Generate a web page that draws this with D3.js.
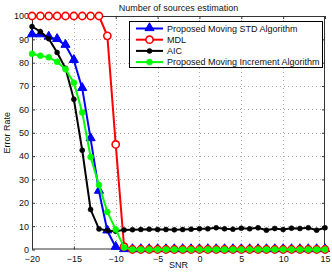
<!DOCTYPE html>
<html><head><meta charset="utf-8">
<script src="https://cdn.jsdelivr.net/npm/d3@7"></script>
<style>body{margin:0;background:#fff}svg{display:block}text{font-family:"Liberation Sans",Arial,sans-serif}</style>
</head><body>
<svg id="c" width="332" height="274"></svg>
<script>
const snr = d3.range(-20, 16, 1);
const stdVals = [92,92,91,90,87.5,81,69,47.5,25,8,1,0,0,0,0,0,0,0,0,0,0,0,0,0,0,0,0,0,0,0,0,0,0,0,0,0];
const mdlVals = [100,100,100,100,100,100,100,100,100,91.5,45,1.2,0,0,0,0,0,0,0,0,0,0,0,0,0,0,0,0,0,0,0,0,0,0,0,0];
const aicVals = [95.5,93.3,90.3,84.4,77.6,64.3,42.5,17.1,8.8,8.1,7.8,8.4,8.5,8.6,8.7,8.6,8.57,8.43,8.57,8.71,8.86,8.86,9.29,8.86,8.71,9.14,8.86,9.29,8.29,9.0,8.57,9.14,9.0,9.29,8.29,9.29];
const incVals = [83.8,83,82.3,80.4,77.2,71.4,58.7,39.6,27.6,16.1,8.6,0.9,0,0,0,0,0,0,0,0,0,0,0,0,0,0,0,0,0,0,0,0,0,0,0,0];
const xTicks = [-20,-15,-10,-5,0,5,10,15];
const yTicks = [0,10,20,30,40,50,60,70,80,90,100];
const seriesNames = ["Proposed Moving STD Algorithm","MDL","AIC","Proposed Moving Increment Algorithm"];

const svg = d3.select("#c");
const L=32, R=325, T=16, B=249.5;
const x = d3.scaleLinear().domain([-20,15]).range([L,R]);
const y = d3.scaleLinear().domain([0,100]).range([B,T]);
const fs = 9;

// grid
const g = svg.append("g");
g.selectAll(".gx").data(xTicks.slice(1,-1)).enter().append("line")
 .attr("x1",d=>Math.round(x(d))+0.5).attr("x2",d=>Math.round(x(d))+0.5).attr("y1",T).attr("y2",B)
 .attr("stroke","#999").attr("stroke-width",0.8).attr("stroke-dasharray","1,3");
g.selectAll(".gy").data(yTicks.slice(1,-1)).enter().append("line")
 .attr("y1",d=>Math.round(y(d))+0.5).attr("y2",d=>Math.round(y(d))+0.5).attr("x1",L).attr("x2",R)
 .attr("stroke","#999").attr("stroke-width",0.8).attr("stroke-dasharray","1,3");

// axes
const xa = d3.axisBottom(x).tickValues(xTicks).tickSize(-3).tickPadding(6).tickFormat(d=>d<0?"\u2212"+(-d):d);
const ya = d3.axisLeft(y).tickValues(yTicks).tickSize(-3).tickPadding(3);
const gx = svg.append("g").attr("transform",`translate(0,${B})`).call(xa);
const gy = svg.append("g").attr("transform",`translate(${L},0)`).call(ya);
[gx,gy].forEach(a=>{a.select(".domain").remove();a.selectAll("line").attr("stroke","#333");a.selectAll("text").attr("font-size",fs).attr("fill","#111").attr("font-family","Liberation Sans, Arial, sans-serif");});
svg.append("g").attr("transform",`translate(0,${T})`).call(d3.axisTop(x).tickValues(xTicks).tickSize(-3).tickFormat("")).call(a=>{a.select(".domain").remove();a.selectAll("line").attr("stroke","#333");});
svg.append("g").attr("transform",`translate(${R},0)`).call(d3.axisRight(y).tickValues(yTicks).tickSize(-3).tickFormat("")).call(a=>{a.select(".domain").remove();a.selectAll("line").attr("stroke","#333");});
svg.append("rect").attr("x",L+0.5).attr("y",T+0.5).attr("width",R-L-1).attr("height",B-T-1)
 .attr("fill","none").attr("stroke","#333").attr("stroke-width",1);

// series
const line = d3.line().x(d=>x(d[0])).y(d=>y(d[1]));
const tri = d3.symbol().type(d3.symbolTriangle).size(36);
function marker(sel, m, color){
  if(m==="tri") sel.append("path").attr("d",tri).attr("transform",d=>`translate(${d[0]},${d[1]-0.5})`).attr("fill",color).attr("stroke",color).attr("stroke-width",1);
  else if(m==="circ") sel.append("circle").attr("cx",d=>d[0]).attr("cy",d=>d[1]).attr("r",3.6).attr("fill","#fff").attr("stroke",color).attr("stroke-width",1.6);
  else sel.append("circle").attr("cx",d=>d[0]).attr("cy",d=>d[1]).attr("r",m).attr("fill",color).attr("stroke",color).attr("stroke-width",0.5);
}
function series(vals,color,m){
  const pts = snr.map((s,i)=>[s,vals[i]]);
  const gg = svg.append("g");
  gg.append("path").datum(pts).attr("d",line).attr("fill","none").attr("stroke",color).attr("stroke-width",2);
  marker(gg.selectAll("g.m").data(pts.map(p=>[x(p[0]),y(p[1])])).enter().append("g").attr("class","m"), m, color);
}
const cols=["#0000ff","#ff0000","#000000","#00ff00"], marks=["tri","circ",2.5,3];
series(stdVals,cols[0],marks[0]);
series(mdlVals,cols[1],marks[1]);
series(aicVals,cols[2],marks[2]);
series(incVals,cols[3],marks[3]);

// legend
const lg = svg.append("g");
lg.append("rect").attr("x",129.5).attr("y",21.5).attr("width",193).attr("height",46).attr("fill","#fff").attr("stroke","#000").attr("stroke-width",1);
seriesNames.forEach((n,i)=>{
  const yy = 28.5 + i*11.2;
  lg.append("line").attr("x1",136).attr("x2",163).attr("y1",yy).attr("y2",yy).attr("stroke",cols[i]).attr("stroke-width",2);
  marker(lg.append("g").datum([149.5,yy]), marks[i], cols[i]);
  lg.append("text").attr("x",167).attr("y",yy).attr("dy","0.35em").attr("font-size",fs).attr("fill","#111").text(n);
});

// titles
svg.append("text").attr("x",(L+R)/2).attr("y",10.5).attr("text-anchor","middle").attr("font-size",fs).attr("fill","#111").text("Number of sources estimation");
svg.append("text").attr("x",(L+R)/2).attr("y",268).attr("text-anchor","middle").attr("font-size",fs).attr("fill","#111").text("SNR");
svg.append("text").attr("transform",`translate(9.5,${(T+B)/2}) rotate(-90)`).attr("text-anchor","middle").attr("font-size",fs).attr("fill","#111").text("Error Rate");
</script>
</body></html>
